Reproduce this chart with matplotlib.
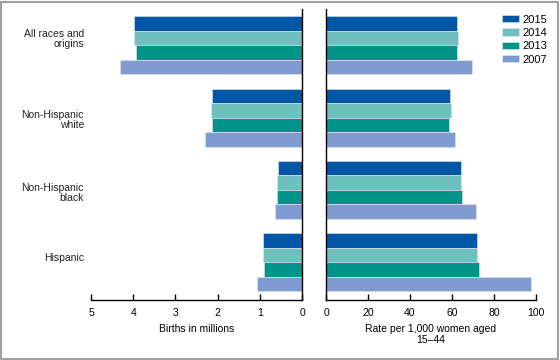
import numpy as np
import matplotlib
matplotlib.use('Agg')
import matplotlib.pyplot as plt
from matplotlib.patches import Rectangle

plt.rcParams['font.family'] = ['Liberation Sans', 'DejaVu Sans']
plt.rcParams['font.size'] = 7.5

groups = ['All races and\norigins', 'Non-Hispanic\nwhite', 'Non-Hispanic\nblack', 'Hispanic']
years = ['2015', '2014', '2013', '2007']
colors = ['#0057a8', '#6fbfbf', '#00938a', '#7f9bd1']

# births in millions
births = {
    '2015': [3.98, 2.13, 0.58, 0.92],
    '2014': [3.99, 2.15, 0.59, 0.92],
    '2013': [3.93, 2.13, 0.59, 0.90],
    '2007': [4.32, 2.31, 0.63, 1.06],
}
# rate per 1,000 women aged 15-44
rates = {
    '2015': [62.5, 59.2, 64.1, 71.7],
    '2014': [62.9, 59.5, 64.5, 72.1],
    '2013': [62.5, 58.7, 64.6, 72.9],
    '2007': [69.3, 61.2, 71.6, 97.4],
}

fig = plt.figure(figsize=(5.6, 3.6), dpi=100)
ax1 = fig.add_axes([91/560, 1-300/360, 211/560, 291/360])
ax2 = fig.add_axes([326/560, 1-300/360, 210/560, 291/360])

y = np.arange(len(groups))
h = 0.2
offsets = [-0.3, -0.1, 0.1, 0.3]
for yr, c, off in zip(years, colors, offsets):
    ax1.barh(y + off, births[yr], height=h, color=c, edgecolor='#e8e8e8', linewidth=0.4, label=yr)
    ax2.barh(y + off, rates[yr], height=h, color=c, edgecolor='#e8e8e8', linewidth=0.4)

for ax in (ax1, ax2):
    ax.set_ylim(3.52, -0.5)
    ax.spines['top'].set_visible(False)
    ax.tick_params(axis='x', direction='in', length=4.5, width=1, pad=6, colors='black')
    ax.spines['bottom'].set_linewidth(1)

ax1.set_xlim(5, 0)
ax1.set_xticks([5, 4, 3, 2, 1, 0])
ax1.spines['left'].set_visible(False)
ax1.spines['right'].set_linewidth(1)
ax1.set_yticks([])
# group labels, nudged a little the way the original places them
label_shift = [-0.08, 0.035, 0.035, -0.055]
for yi, txt, dy in zip(y, groups, label_shift):
    ax1.text(-7 / 211, yi + dy, txt, transform=ax1.get_yaxis_transform(),
             ha='right', va='center', linespacing=1.0, color='#222222')
ax1.set_xlabel('Births in millions', labelpad=4)

ax2.set_xlim(0, 100)
ax2.set_xticks([0, 20, 40, 60, 80, 100])
ax2.spines['right'].set_visible(False)
ax2.spines['left'].set_linewidth(1)
ax2.set_yticks([])
ax2.set_xlabel('Rate per 1,000 women aged\n15\u201344', labelpad=4)

handles, labels = ax1.get_legend_handles_labels()
fig.legend(handles, labels, loc='upper left', bbox_to_anchor=(496/560, 1-9/360),
           frameon=False, borderpad=0, handlelength=1.53, handleheight=0.65,
           handletextpad=0.36, labelspacing=0.3, fontsize=8)

fig.patches.append(Rectangle((0.002, 0.004), 0.995, 0.99, transform=fig.transFigure,
                             fill=False, edgecolor='#a0a0a0', linewidth=1.5))

fig.savefig('out.png', dpi=100)
